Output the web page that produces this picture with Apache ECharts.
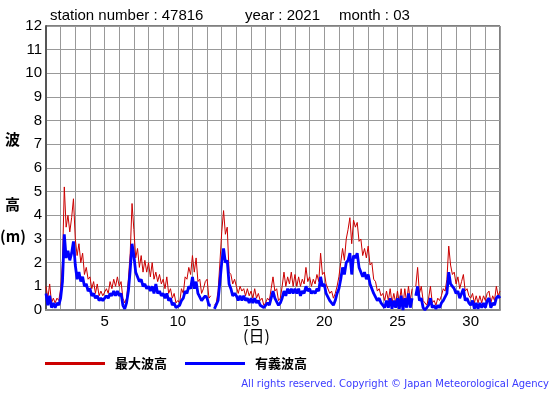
<!DOCTYPE html>
<html><head><meta charset="utf-8">
<script src="https://cdn.jsdelivr.net/npm/echarts@6/dist/echarts.min.js"></script>
<style>html,body{margin:0;padding:0;background:#fff}#c{width:555px;height:395px}</style>
</head><body><div id="c"></div>
<script>
// Station / period
const stationNumber = '47816';
const year = '2021';
const month = '03';
const samplesPerDay = 8; // 3-hourly readings
const firstDay = 1;

// 最大波高 (max wave height, m), 8 readings per day, days 1..31, plus end point
const maxWave = [
  1.0,0.5,1.1,0.3,0.5,0.3,0.5,0.4,
  0.9,2.0,5.2,3.5,4.0,3.3,3.9,4.7,
  3.0,2.3,2.8,2.0,2.4,1.5,1.8,1.3,
  1.4,0.9,1.2,0.7,1.1,0.6,0.8,0.6,
  0.6,0.9,0.7,1.2,0.9,1.3,1.0,1.4,
  1.0,1.2,0.5,0.3,0.5,1.3,2.4,4.5,
  3.4,2.2,2.6,1.8,2.3,1.6,2.1,1.6,
  2.0,1.4,2.0,1.3,1.6,1.2,1.5,1.1,
  1.3,0.9,1.4,0.7,0.9,0.5,0.7,0.3,
  0.4,0.3,0.9,0.7,1.4,1.3,1.8,1.5,
  2.3,1.6,2.2,1.2,1.3,0.7,0.9,1.2,
  1.3,0.5,0.6,null,0.2,0.3,0.8,2.0,
  3.3,4.2,3.2,3.5,1.6,1.5,1.1,1.3,
  1.0,0.7,1.0,0.8,0.9,0.6,0.9,0.6,
  0.8,0.5,0.9,0.5,0.7,0.4,0.5,0.2,
  0.3,0.5,0.4,0.9,1.4,0.8,0.9,0.4,
  0.5,1.0,1.6,1.0,1.4,1.1,1.6,1.0,
  1.5,1.0,1.4,1.0,1.3,1.1,1.8,1.2,
  1.4,1.0,1.3,1.1,1.5,1.2,2.4,1.5,
  1.6,1.1,1.1,0.7,0.8,0.5,0.7,1.0,
  1.4,2.0,2.6,2.1,3.0,3.4,3.9,2.8,
  3.8,3.5,3.7,2.9,3.0,2.3,2.6,2.2,
  2.7,1.9,2.0,1.3,1.2,0.8,0.9,0.6,
  0.7,0.4,0.8,0.4,0.9,0.3,0.7,0.3,
  0.8,0.3,0.9,0.2,0.9,0.3,1.0,0.4,
  0.9,null,1.0,1.8,0.7,1.0,0.4,0.3,
  0.2,0.5,1.0,0.3,0.4,0.2,0.5,0.4,
  0.6,0.9,0.8,1.3,2.7,1.9,1.5,1.6,
  1.1,1.4,0.9,1.2,1.5,0.8,0.9,0.6,
  0.5,0.7,0.3,0.6,0.3,0.6,0.3,0.6,
  0.4,0.7,0.8,0.3,0.6,0.4,1.0,0.6,
  0.8
];

// 有義波高 (significant wave height, m)
const sigWave = [
  0.7,0.2,0.6,0.1,0.3,0.1,0.3,0.2,
  0.5,1.2,3.2,2.2,2.5,2.1,2.4,2.9,
  1.9,1.3,1.6,1.2,1.4,1.0,1.1,0.8,
  0.9,0.6,0.7,0.5,0.6,0.4,0.5,0.4,
  0.4,0.6,0.5,0.7,0.6,0.8,0.6,0.8,
  0.6,0.7,0.2,0.05,0.3,0.8,1.7,2.8,
  2.3,1.6,1.6,1.2,1.3,1.0,1.1,0.9,
  1.0,0.8,1.0,0.7,1.1,0.7,0.8,0.6,
  0.7,0.5,0.7,0.4,0.5,0.2,0.3,0.1,
  0.05,0.2,0.4,0.5,0.8,0.7,1.0,0.9,
  1.4,0.9,1.2,0.7,0.7,0.4,0.5,0.6,
  0.5,0.2,0.2,null,0.05,0.1,0.4,1.2,
  2.0,2.6,2.0,2.1,1.1,0.9,0.6,0.7,
  0.6,0.4,0.6,0.4,0.6,0.4,0.5,0.3,
  0.5,0.3,0.5,0.3,0.4,0.2,0.2,0.1,
  0.1,0.3,0.2,0.5,0.8,0.5,0.5,0.2,
  0.3,0.5,0.8,0.6,0.9,0.7,0.9,0.7,
  0.9,0.7,0.9,0.6,0.8,0.7,1.0,0.8,
  0.9,0.7,0.8,0.7,0.9,0.8,1.4,1.0,
  1.1,0.7,0.7,0.4,0.4,0.2,0.4,0.7,
  0.9,1.3,1.8,1.5,2.0,2.1,2.4,1.5,
  2.3,2.2,2.4,1.8,1.8,1.4,1.6,1.3,
  1.5,1.1,1.1,0.7,0.7,0.4,0.5,0.3,
  0.3,0.1,0.4,0.1,0.5,0.05,0.4,0.1,
  0.5,0.05,0.6,0.0,0.5,0.1,0.7,0.1,
  0.5,null,0.6,1.0,0.4,0.5,0.1,0.0,
  0.0,0.2,0.5,0.1,0.2,0.05,0.2,0.1,
  0.3,0.4,0.4,0.7,1.6,1.1,1.0,0.9,
  0.7,0.8,0.5,0.7,0.9,0.4,0.5,0.3,
  0.2,0.4,0.05,0.3,0.05,0.3,0.1,0.3,
  0.1,0.4,0.5,0.1,0.3,0.2,0.5,0.6,
  0.5
];

const xTickLabels = [5, 10, 15, 20, 25, 30];
const yTickLabels = [0,1,2,3,4,5,6,7,8,9,10,11,12];
const seriesNames = ['最大波高', '有義波高'];

const toPairs = arr => arr.map((v, i) => [firstDay + i / samplesPerDay, v]);

const chart = echarts.init(document.getElementById('c'), null, {renderer: 'canvas'});
const font = 'Liberation Sans, Arial, sans-serif';
const cjk = '"Noto Sans CJK JP", sans-serif';
chart.setOption({
  animation: false,
  backgroundColor: '#fff',
  grid: {left: 46, right: 55, top: 26, bottom: 85, show: true, borderColor: '#000', borderWidth: 1, containLabel: false},
  xAxis: {
    type: 'value', min: 1, max: 32, interval: 1,
    axisLine: {show: true, onZero: false, lineStyle: {color: '#888', width: 2}},
    axisTick: {show: false},
    splitLine: {show: true, lineStyle: {color: '#999', width: 1}},
    axisLabel: {
      color: '#000', fontSize: 15, fontFamily: font, margin: 4,
      formatter: v => xTickLabels.includes(v) ? String(v) : ''
    }
  },
  yAxis: {
    type: 'value', min: 0, max: 12, interval: 1,
    axisLine: {show: true, lineStyle: {color: '#555', width: 2}},
    axisTick: {show: false},
    splitLine: {show: true, lineStyle: {color: '#999', width: 1}},
    axisLabel: {
      color: '#000', fontSize: 15, fontFamily: font, margin: 4,
      formatter: v => yTickLabels.includes(v) ? String(v) : ''
    }
  },
  legend: {
    left: 40, top: 352, itemWidth: 60, itemHeight: 3, itemGap: 18,
    icon: 'rect',
    textStyle: {color: '#000', fontSize: 13, fontWeight: 'bold', fontFamily: cjk, padding: [0, 0, 0, 5]},
    data: seriesNames
  },
  series: [
    {name: seriesNames[0], type: 'line', data: toPairs(maxWave), showSymbol: false, symbol: 'none',
     connectNulls: false, lineStyle: {color: '#cc0000', width: 1}, itemStyle: {color: '#cc0000'}, z: 2},
    {name: seriesNames[1], type: 'line', data: toPairs(sigWave), showSymbol: false, symbol: 'none',
     connectNulls: false, lineStyle: {color: '#0000ff', width: 2.8}, itemStyle: {color: '#0000ff'}, z: 3}
  ],
  graphic: [
    {type: 'text', left: 50, top: 8, style: {text: 'station number : ' + stationNumber, font: '15px ' + font, fill: '#000'}},
    {type: 'text', left: 245, top: 8, style: {text: 'year : ' + year, font: '15px ' + font, fill: '#000'}},
    {type: 'text', left: 339, top: 8, style: {text: 'month : ' + month, font: '15px ' + font, fill: '#000'}},
    {type: 'text', left: 5, top: 132, style: {text: '波', font: 'bold 15px ' + cjk, fill: '#000'}},
    {type: 'text', left: 5, top: 197, style: {text: '高', font: 'bold 15px ' + cjk, fill: '#000'}},
    {type: 'text', left: 0, top: 229, style: {text: '(m)', font: 'bold 15px ' + cjk, fill: '#000'}},
    {type: 'text', left: 243, top: 328, style: {text: '(日)', font: '16px ' + cjk, fill: '#000'}},
    {type: 'text', right: 6, top: 379, style: {text: 'All rights reserved. Copyright © Japan Meteorological Agency', font: '10px "DejaVu Sans", sans-serif', fill: '#3a3aff'}}
  ]
});
</script></body></html>
